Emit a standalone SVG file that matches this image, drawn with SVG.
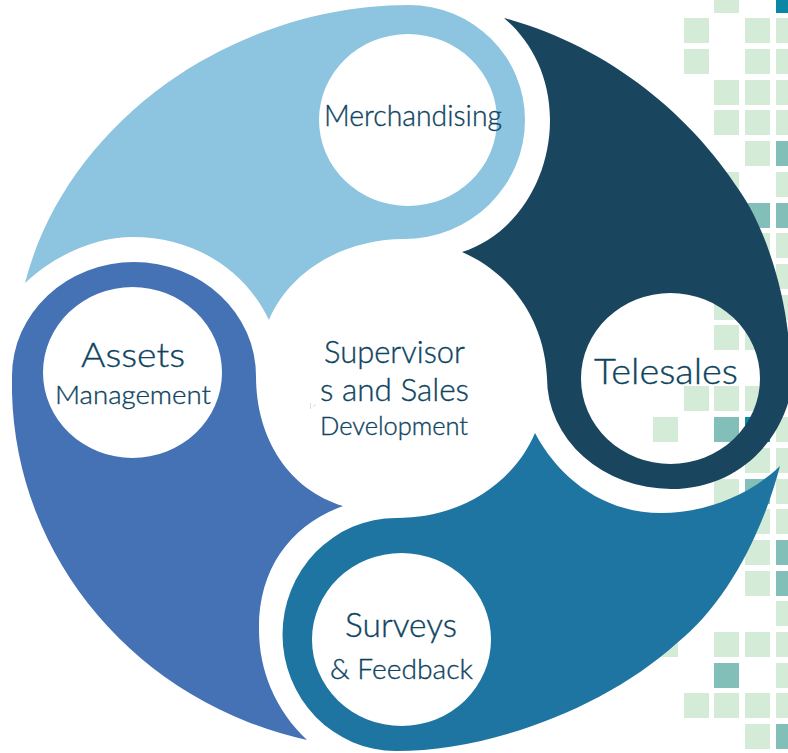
<svg xmlns="http://www.w3.org/2000/svg" width="788" height="753" viewBox="0 0 788 753">
<style>
.l{fill:#d4ebd7}.m{fill:#82bfb8}.d{fill:#0a87a5}
.shape{fill-rule:evenodd}
text{font-family:"Lato","Open Sans",sans-serif;font-weight:300;fill:#0e4462;stroke:#0e4462;stroke-width:.35}
</style>
<defs><rect id="s" width="25" height="25"/></defs>
<rect width="788" height="753" fill="#fff"/>
<g id="grid">
<g class="l">
<use href="#s" x="714" y="-12"/>
<use href="#s" x="684" y="18"/><use href="#s" x="745" y="18"/><use href="#s" x="776" y="18"/>
<use href="#s" x="684" y="49"/><use href="#s" x="745" y="49"/><use href="#s" x="776" y="49"/>
<use href="#s" x="714" y="80"/><use href="#s" x="745" y="80"/><use href="#s" x="776" y="80"/>
<use href="#s" x="714" y="110"/><use href="#s" x="745" y="110"/><use href="#s" x="776" y="110"/>
<use href="#s" x="745" y="141"/>
<use href="#s" x="714" y="172"/><use href="#s" x="776" y="172"/>
<use href="#s" x="745" y="233"/><use href="#s" x="776" y="233"/>
<use href="#s" x="776" y="264"/>
<use href="#s" x="714" y="295"/><use href="#s" x="776" y="295"/>
<use href="#s" x="714" y="325"/><use href="#s" x="745" y="325"/>
<use href="#s" x="684" y="386"/><use href="#s" x="714" y="386"/><use href="#s" x="745" y="386"/>
<use href="#s" x="653" y="417"/><use href="#s" x="776" y="417"/>
<use href="#s" x="745" y="448"/><use href="#s" x="776" y="448"/>
<use href="#s" x="714" y="479"/><use href="#s" x="776" y="479"/>
<use href="#s" x="745" y="509"/><use href="#s" x="776" y="509"/>
<use href="#s" x="745" y="540"/><use href="#s" x="745" y="571"/>
<use href="#s" x="776" y="601"/>
<use href="#s" x="653" y="632"/><use href="#s" x="714" y="632"/><use href="#s" x="745" y="632"/><use href="#s" x="776" y="632"/>
<use href="#s" x="776" y="663"/>
<use href="#s" x="684" y="693"/><use href="#s" x="714" y="693"/><use href="#s" x="745" y="693"/><use href="#s" x="776" y="693"/>
<use href="#s" x="745" y="724"/>
</g>
<g class="m">
<use href="#s" x="776" y="141"/><use href="#s" x="745" y="203"/><use href="#s" x="776" y="203"/>
<use href="#s" x="714" y="417"/><use href="#s" x="745" y="479"/>
<use href="#s" x="776" y="540"/><use href="#s" x="776" y="571"/><use href="#s" x="714" y="663"/><use href="#s" x="776" y="724"/>
</g>
<g class="d"><use href="#s" x="776" y="-12"/><use href="#s" x="745" y="417"/></g>
</g>
<g id="connectors"></g>
<g id="merchandising">
<path class="shape" fill="#8dc4df" d="M25 283C45 205 95 135 167 83C235 35 320 5 409 5A116 115 0 0 1 525 120A121 119 0 0 1 404 239C345 239 290 270 269 320C245 270 195 237 133 237C95 237 55 255 25 283ZM319 120A89 86 0 0 0 497 120A89 86 0 0 0 319 120Z"/>
<text x="324" y="126" font-size="29" textLength="178" lengthAdjust="spacingAndGlyphs">Merchandising</text>
</g>
<g id="telesales">
<path class="shape" fill="#19455f" d="M504 18C610 47 690 115 739 190C762 222 782 280 788 333L790 396C778 445 735 489 671 489A124 111 0 0 1 547 378C545 325 515 275 462 252C515 235 550 180 550 120C550 75 530 40 504 18ZM581 378.500A89.500 85.500 0 0 0 760 378.500A89.500 85.500 0 0 0 581 378.500Z"/>
<text x="594" y="384" font-size="36" textLength="144" lengthAdjust="spacingAndGlyphs">Telesales</text>
</g>
<g id="surveys">
<path class="shape" fill="#1f75a2" d="M780 466C750 495 705 513 661 513C605 513 560 480 535 433C515 480 465 518 396 518A113 116 0 0 0 396 751C490 751 605 708 677 643C725 605 762 535 780 466ZM312 639.500A89.500 86.500 0 0 0 491 639.500A89.500 86.500 0 0 0 312 639.500Z"/>
<text x="345" y="637" font-size="33" textLength="112" lengthAdjust="spacingAndGlyphs">Surveys</text>
<text x="330" y="679" font-size="27" textLength="143" lengthAdjust="spacingAndGlyphs">&amp; Feedback</text>
</g>
<g id="assets">
<path class="shape" fill="#4472b5" d="M134 262A122 114 0 0 1 256 376C256 440 290 490 343 506C290 525 258 570 259 630C259 670 275 710 307 740A380 365 0 0 1 12 393L12 376A122 114 0 0 1 134 262ZM43 372.500A89.500 85.500 0 0 0 222 372.500A89.500 85.500 0 0 0 43 372.500Z"/>
<text x="81" y="367" font-size="34" textLength="104" lengthAdjust="spacingAndGlyphs">Assets</text>
<text x="55" y="404" font-size="26" textLength="156" lengthAdjust="spacingAndGlyphs">Management</text>
</g>
<g id="center">
<text x="324" y="363" font-size="31" textLength="141" lengthAdjust="spacingAndGlyphs">Supervisor</text>
<text x="320" y="401" font-size="31" textLength="149" lengthAdjust="spacingAndGlyphs">s and Sales</text>
<text x="320" y="435" font-size="25" textLength="148" lengthAdjust="spacingAndGlyphs">Development</text>
<path d="M310.500 403V409M316 404L313 407" fill="none" stroke="#ddd" stroke-width="1"/>
</g>
</svg>
